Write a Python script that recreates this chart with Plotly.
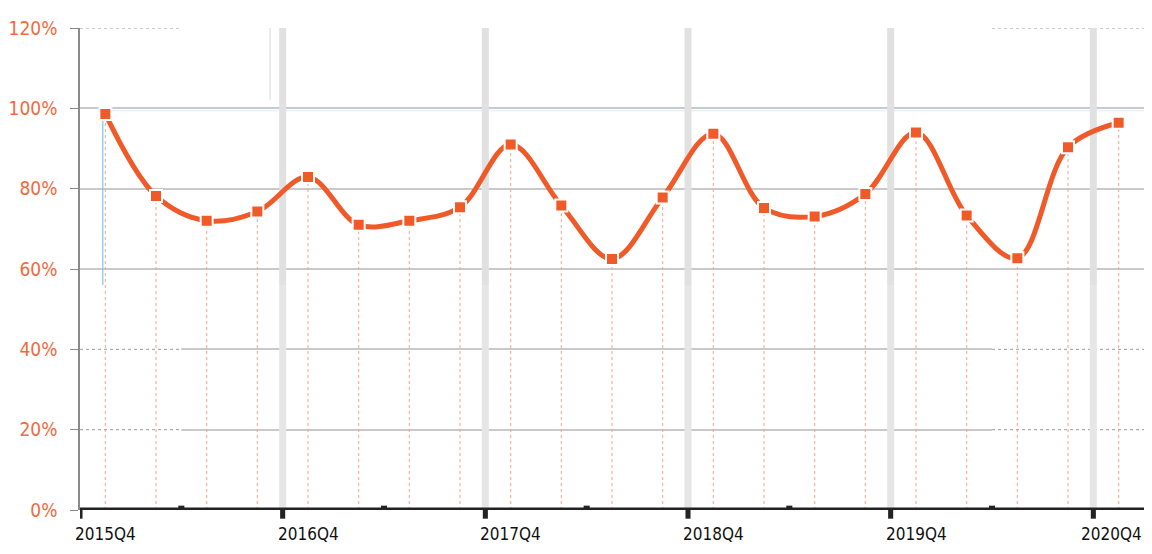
import plotly.graph_objects as go

quarters = ["2015Q4", "2016Q1", "2016Q2", "2016Q3", "2016Q4", "2017Q1", "2017Q2",
            "2017Q3", "2017Q4", "2018Q1", "2018Q2", "2018Q3", "2018Q4", "2019Q1",
            "2019Q2", "2019Q3", "2019Q4", "2020Q1", "2020Q2", "2020Q3", "2020Q4"]
values = [98.6, 78.2, 72.0, 74.3, 82.9, 71.0, 72.0, 75.4, 91.0, 75.8, 62.5,
          77.8, 93.7, 75.2, 73.1, 78.7, 94.0, 73.3, 62.7, 90.3, 96.4]
y_ticks = [0, 20, 40, 60, 80, 100, 120]
y_tick_labels = [f"{v}%" for v in y_ticks]
dashed_grid_levels = [20, 40, 120]

ORANGE = "#f05a28"
LABEL_ORANGE = "#f26a3c"
FONT = "DejaVu Sans Condensed, DejaVu Sans, sans-serif"
n = len(quarters)
xs = list(range(n))
label_idx = [i for i in xs if quarters[i].endswith("Q4")]

fig = go.Figure()

shapes = []
# dashed segments of some gridlines (left and right ends)
for lvl in dashed_grid_levels:
    for (a, b) in [(-0.5, 1.5), (17.5, n - 0.5)]:
        shapes.append(dict(type="line", xref="x", yref="y", x0=a, x1=b, y0=lvl, y1=lvl,
                           line=dict(color="white", width=2.5), layer="between"))
        shapes.append(dict(type="line", xref="x", yref="y", x0=a, x1=b, y0=lvl, y1=lvl,
                           line=dict(color="#9a9a9a", width=1, dash="dot"), layer="between"))
# faint cyan line just below 100%
shapes.append(dict(type="line", xref="x", yref="y", x0=0, x1=n - 0.5, y0=99.4, y1=99.4,
                   line=dict(color="#d6eef7", width=1), layer="between"))
# drop lines from each point to the axis
for i, v in zip(xs, values):
    shapes.append(dict(type="line", xref="x", yref="y", x0=i, x1=i, y0=0, y1=v,
                       line=dict(color="#f2a38e", width=1, dash="dot"), layer="between"))
# year boundary bands
for i in label_idx[1:]:
    b = i - 0.5
    shapes.append(dict(type="line", xref="x", yref="y", x0=b, x1=b, y0=56, y1=120,
                       line=dict(color="#e1e1e1", width=7), layer="between"))
    shapes.append(dict(type="line", xref="x", yref="y", x0=b, x1=b, y0=0, y1=56,
                       line=dict(color="#e6e6e6", width=7), layer="between"))
# thin gray vertical artifact before 2016Q4 band
shapes.append(dict(type="line", xref="x", yref="y", x0=label_idx[1] - 0.75, x1=label_idx[1] - 0.75,
                   y0=102, y1=120, line=dict(color="#d8d8d8", width=1), layer="between"))
# thin blue line near first point
shapes.append(dict(type="line", xref="x", yref="y", x0=-0.05, x1=-0.05, y0=56, y1=values[0],
                   line=dict(color="#7cc8e6", width=1.2), layer="between"))
# thick x axis line
shapes.append(dict(type="line", xref="paper", yref="y", x0=0, x1=1, y0=0, y1=0,
                   line=dict(color="#222222", width=5), layer="above"))
# major ticks (below) at group boundaries and minor ticks (above)
for i in label_idx:
    b = i - 0.5
    shapes.append(dict(type="rect", xref="x", yref="paper", x0=b - 0.05, x1=b + 0.05,
                       y0=-0.018, y1=0, fillcolor="#222222", line=dict(width=0)))
    m = i + 1.5
    if m < n - 0.5:
        shapes.append(dict(type="rect", xref="x", yref="paper", x0=m - 0.06, x1=m + 0.06,
                           y0=0, y1=0.009, fillcolor="#222222", line=dict(width=0)))

# x labels as annotations centred on their quarter (last one kept inside the page)
annotations = []
for i in label_idx:
    last = (i == label_idx[-1])
    annotations.append(dict(
        text=quarters[i], xref="paper" if last else "x", x=1.0 if last else i,
        xanchor="right" if last else "center", yref="paper", y=0, yanchor="top",
        yshift=-12, showarrow=False,
        font=dict(family=FONT, size=17, color="#111111")))

fig.add_trace(go.Scatter(
    x=xs, y=values, mode="lines+markers",
    line=dict(color=ORANGE, width=5, shape="spline", smoothing=1.0),
    marker=dict(symbol="square", size=12, color=ORANGE, line=dict(color="white", width=2)),
    hoverinfo="skip", showlegend=False,
))

# page body has an 8px margin, so the figure is sized to fit the 1152x554 window
fig.update_layout(
    width=1144, height=538,
    margin=dict(l=72, r=8, t=20, b=36),
    plot_bgcolor="white", paper_bgcolor="white",
    shapes=shapes, annotations=annotations,
    xaxis=dict(range=[-0.5, n - 0.5], showticklabels=False, showgrid=False, zeroline=False,
               showline=False, ticks="", automargin=False),
    yaxis=dict(range=[0, 120], tickmode="array", tickvals=y_ticks, ticktext=y_tick_labels,
               showgrid=True, gridcolor="#c9c9c9", gridwidth=1.5, zeroline=False,
               showline=True, linecolor="#8a8a8a", linewidth=1.5, automargin=False,
               ticklabeloverflow="allow",
               ticks="outside", ticklen=8, tickcolor="#8a8a8a", ticklabelstandoff=9,
               tickfont=dict(family=FONT, size=19, color=LABEL_ORANGE)),
)

fig.write_html("out.html")
